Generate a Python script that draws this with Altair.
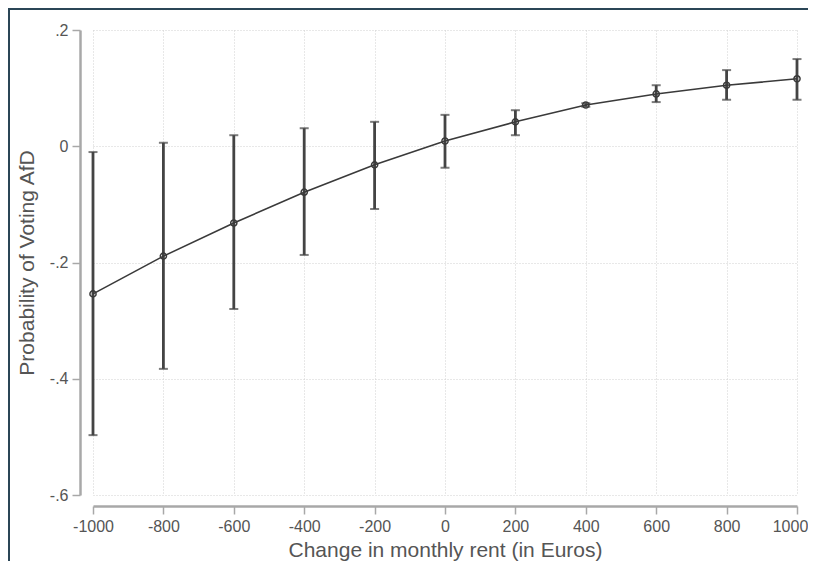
import altair as alt
import pandas as pd

rent_change = [-1000, -800, -600, -400, -200, 0, 200, 400, 600, 800, 1000]
prob = [-0.254, -0.189, -0.132, -0.079, -0.032, 0.009, 0.042, 0.071, 0.090, 0.105, 0.116]
ci_low = [-0.497, -0.383, -0.280, -0.187, -0.108, -0.037, 0.019, 0.068, 0.076, 0.080, 0.080]
ci_high = [-0.010, 0.006, 0.019, 0.031, 0.042, 0.054, 0.062, 0.074, 0.105, 0.131, 0.150]

x_ticks = [-1000, -800, -600, -400, -200, 0, 200, 400, 600, 800, 1000]
y_ticks = [-0.6, -0.4, -0.2, 0, 0.2]

df = pd.DataFrame({"x": rent_change, "p": prob, "lo": ci_low, "hi": ci_high})

FONT = "Liberation Sans"
LABEL_COLOR = "#555555"
AXIS_COLOR = "#a8a8a8"

y_label_expr = (
    "datum.value == 0 ? '0' : (datum.value < 0 ? '-' : '') + "
    "replace(format(abs(datum.value), '.1f'), /^0/, '')"
)

xenc = alt.X(
    "x:Q",
    scale=alt.Scale(domain=[-1000, 1000], nice=False, zero=False),
    axis=alt.Axis(
        values=x_ticks,
        title="Change in monthly rent (in Euros)",
        labelExpr="toString(datum.value)",
        labelFlush=False,
        labelOffset=alt.expr("datum.value == 1000 ? -7 : 0"),
        offset=11,
        tickSize=8,
        labelPadding=4,
        titlePadding=5,
        grid=True,
        domain=True,
    ),
)
yenc_axis = alt.Axis(
    values=y_ticks,
    title="Probability of Voting AfD",
    labelExpr=y_label_expr,
    labelFlush=False,
    offset=13,
    tickSize=8,
    labelPadding=4,
    titlePadding=12,
    grid=True,
    domain=True,
)
yscale = alt.Scale(domain=[-0.6, 0.2], nice=False, zero=False)

base = alt.Chart(df)

bars = base.mark_rule(color="#444444", strokeWidth=2.8).encode(
    x=xenc,
    y=alt.Y("lo:Q", scale=yscale, axis=yenc_axis),
    y2="hi:Q",
)
cap_lo = base.mark_tick(color="#444444", orient="horizontal", size=9, thickness=2).encode(
    x="x:Q", y="lo:Q"
)
cap_hi = base.mark_tick(color="#444444", orient="horizontal", size=9, thickness=2).encode(
    x="x:Q", y="hi:Q"
)
line = base.mark_line(color="#3a3a3a", strokeWidth=1.6).encode(x="x:Q", y="p:Q")
pts = base.mark_point(
    filled=False, color="#3a3a3a", size=38, strokeWidth=1.5, opacity=1
).encode(x="x:Q", y="p:Q")

frame_left = alt.Chart(df).mark_rule(color="#2b4657", strokeWidth=1.6).encode(
    x=alt.value(-84.2), y=alt.value(-21.3), y2=alt.value(600)
)
frame_top = alt.Chart(df).mark_rule(color="#2b4657", strokeWidth=1.6).encode(
    x=alt.value(-85), x2=alt.value(800), y=alt.value(-21.3)
)

chart = (
    alt.layer(bars, cap_lo, cap_hi, line, pts, frame_left, frame_top)
    .properties(
        width=704,
        height=465,
        autosize=alt.AutoSizeParams(type="none"),
        padding={"left": 85, "top": 22, "right": 11, "bottom": 66},
        background="white",
    )
    .configure_view(stroke=None)
    .configure_axis(
        labelFont=FONT,
        titleFont=FONT,
        labelFontSize=16,
        titleFontSize=21,
        labelColor=LABEL_COLOR,
        titleColor=LABEL_COLOR,
        titleFontWeight="normal",
        domainColor=AXIS_COLOR,
        domainWidth=2.5,
        tickColor=AXIS_COLOR,
        tickWidth=1.5,
        gridColor="#d0d0d0",
        gridDash=[1, 2],
        gridWidth=1,
    )
)

chart.save("out.html", embed_options={"renderer": "svg", "actions": False})
